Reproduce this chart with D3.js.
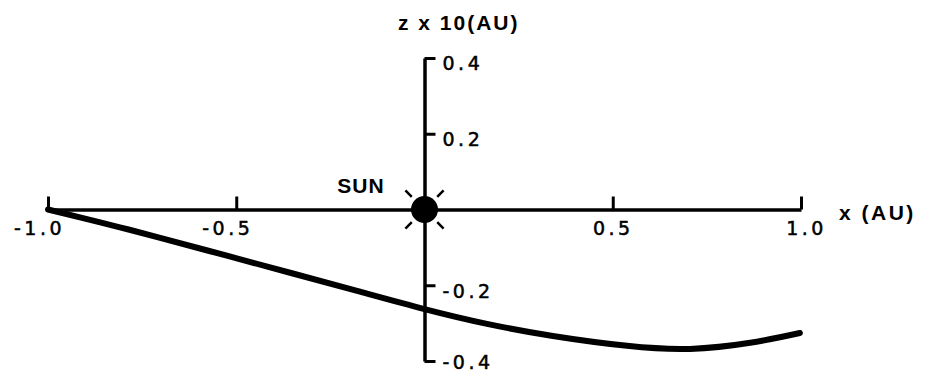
<!DOCTYPE html>
<html>
<head>
<meta charset="utf-8">
<script src="https://cdn.jsdelivr.net/npm/d3@7/dist/d3.min.js"></script>
<style>
  html, body { margin: 0; padding: 0; background: #fff; }
  svg { display: block; }
  .tick text { font-family: "DejaVu Sans", sans-serif; font-size: 19px; letter-spacing: 3.5px; fill: #000; stroke: #000; stroke-width: 0.5px; }
  .title { font-family: "Liberation Sans", Arial, sans-serif; font-weight: bold; fill: #000; }
</style>
</head>
<body>
<svg id="chart" width="934" height="376"></svg>
<script>
// Orbit track projected onto the x-z plane (x in AU, z scaled by 10)
const orbitX = [-1.0, -0.915, -0.809, -0.702, -0.525, -0.357, -0.179, 0.0, 0.166, 0.341, 0.538, 0.705, 0.865, 0.997];
const orbitZ = [0.0, -0.021, -0.047, -0.075, -0.122, -0.167, -0.215, -0.263, -0.302, -0.334, -0.360, -0.368, -0.352, -0.326];

const xTicks = [-1.0, -0.5, 0.5, 1.0];
const xTickLabels = ["-1.0", "-0.5", "0.5", "1.0"];
const zTicks = [0.4, 0.2, -0.2, -0.4];
const zTickLabels = ["0.4", "0.2", "-0.2", "-0.4"];

const xTitle = "x (AU)";
const zTitle = "z x 10(AU)";
const sunLabel = "SUN";

const svg = d3.select("#chart");

const x = d3.scaleLinear().domain([-1, 1]).range([48, 801]);
const y = d3.scaleLinear().domain([-0.4, 0.4]).range([361, 58]);

// Horizontal axis through z = 0, ticks pointing upward
const xAxis = d3.axisBottom(x)
  .tickValues(xTicks)
  .tickSize(-13)
  .tickSizeOuter(0)
  .tickPadding(12)
  .tickFormat((d, i) => xTickLabels[i]);

const gx = svg.append("g")
  .attr("transform", `translate(0,${y(0)})`)
  .call(xAxis);
gx.select(".domain").attr("stroke", "#000").attr("stroke-width", 3.5);
gx.selectAll(".tick line").attr("stroke", "#000").attr("stroke-width", 3);
gx.selectAll(".tick text")
  .attr("dx", d => d < 0 ? -9 : (d === 1 ? 5 : 0));

// Vertical axis through x = 0, ticks pointing right
const zAxis = d3.axisRight(y)
  .tickValues(zTicks)
  .tickSize(11)
  .tickSizeOuter(0)
  .tickPadding(7)
  .tickFormat((d, i) => zTickLabels[i]);

const gz = svg.append("g")
  .attr("transform", `translate(${x(0)},0)`)
  .call(zAxis);
gz.select(".domain").attr("stroke", "#000").attr("stroke-width", 3.5);
gz.selectAll(".tick line").attr("stroke", "#000").attr("stroke-width", 3);
gz.selectAll(".tick text").attr("dy", d => d === -0.4 ? "0.4em" : "0.62em");

// Orbit curve
const line = d3.line()
  .x((d, i) => x(orbitX[i]))
  .y((d, i) => y(orbitZ[i]))
  .curve(d3.curveNatural);

svg.append("path")
  .datum(orbitX)
  .attr("d", line)
  .attr("fill", "none")
  .attr("stroke", "#000")
  .attr("stroke-width", 6)
  .attr("stroke-linecap", "round")
  .attr("stroke-linejoin", "round");

// Sun at the origin with four short rays
const cx = x(0), cy = y(0);
svg.append("circle")
  .attr("cx", cx).attr("cy", cy).attr("r", 13.5)
  .attr("fill", "#000");

const rayAngles = [45, 135, 225, 315];
svg.selectAll("line.ray")
  .data(rayAngles)
  .join("line")
  .attr("class", "ray")
  .attr("x1", a => cx + 18 * Math.cos(a * Math.PI / 180))
  .attr("y1", a => cy + 18 * Math.sin(a * Math.PI / 180))
  .attr("x2", a => cx + 27 * Math.cos(a * Math.PI / 180))
  .attr("y2", a => cy + 27 * Math.sin(a * Math.PI / 180))
  .attr("stroke", "#000")
  .attr("stroke-width", 2.5);

// Labels
svg.append("text")
  .attr("class", "title")
  .attr("x", 361).attr("y", 193)
  .attr("text-anchor", "middle")
  .attr("font-size", 21)
  .attr("letter-spacing", 1)
  .text(sunLabel);

svg.append("text")
  .attr("class", "title")
  .attr("x", 839).attr("y", 220)
  .attr("font-size", 21)
  .attr("letter-spacing", 2.5)
  .text(xTitle);

svg.append("text")
  .attr("class", "title")
  .attr("x", 398).attr("y", 30)
  .attr("font-size", 21)
  .attr("letter-spacing", 2)
  .text(zTitle);
</script>
</body>
</html>
